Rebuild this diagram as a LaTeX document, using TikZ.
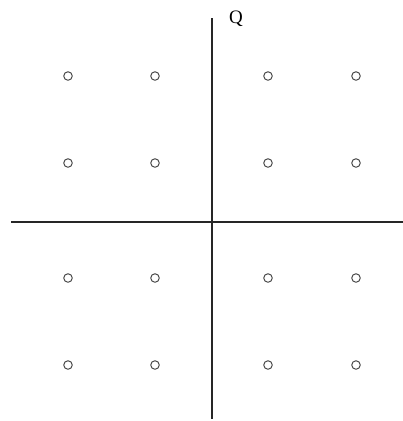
\documentclass[tikz,border=0pt]{standalone}
\usepackage{fontspec}
\setmainfont{Liberation Serif}
\begin{document}
\begin{tikzpicture}[x=1pt,y=-1pt,
  pt/.style={circle,draw=black!70,line width=1pt,minimum size=8.5pt,inner sep=0pt},
  axis/.style={draw=black!85,line width=1.3pt}]
\useasboundingbox (0,0) rectangle (403,421);
\coordinate (vt) at (212,18);
\coordinate (vb) at (212,419);
\coordinate (hl) at (11,222);
\coordinate (hr) at (403,222);
\draw[axis] (vt) -- (vb);
\draw[axis] (hl) -- (hr);
\node[anchor=base,font=\fontsize{19}{19}\selectfont] (q) at (236,23) {Q};
\foreach \x [count=\i] in {68,155,268,356}{
  \foreach \y [count=\j] in {76,163,278,365}{
    \node[pt] (c\i\j) at (\x,\y) {};
  }
}
\end{tikzpicture}
\end{document}
